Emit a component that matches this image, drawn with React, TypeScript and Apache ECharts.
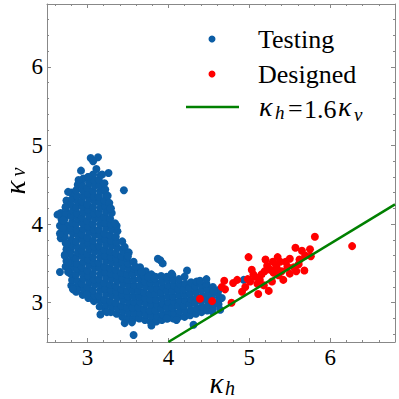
import React, { useEffect, useRef } from "react";
import * as echarts from "echarts";

const AXIS_MIN = 2.5;
const AXIS_MAX = 6.8;
const majorTicks = [3, 4, 5, 6];
const minorTicks = [2.6, 2.8, 3.2, 3.4, 3.6, 3.8, 4.2, 4.4, 4.6, 4.8, 5.2, 5.4, 5.6, 5.8, 6.2, 6.4, 6.6];

const testingCore: number[][] = [
  [2.67,3.82],[2.68,3.90],[2.66,3.98],[2.68,4.06],[2.67,4.14],
  [2.73,3.46],[2.74,3.53],[2.72,3.61],[2.74,3.68],[2.73,3.76],[2.72,3.84],[2.74,3.91],[2.73,3.99],[2.72,4.07],[2.74,4.14],[2.73,4.22],[2.74,4.30],
  [2.80,3.22],[2.81,3.29],[2.79,3.37],[2.81,3.44],[2.80,3.51],[2.82,3.58],[2.79,3.66],[2.81,3.73],[2.80,3.80],[2.82,3.88],[2.79,3.95],[2.81,4.02],[2.80,4.10],[2.82,4.17],[2.79,4.25],[2.81,4.32],[2.80,4.40],
  [2.86,3.14],[2.88,3.21],[2.87,3.28],[2.86,3.36],[2.88,3.43],[2.87,3.50],[2.86,3.57],[2.88,3.64],[2.87,3.71],[2.86,3.78],[2.88,3.86],[2.87,3.93],[2.86,4.00],[2.88,4.07],[2.87,4.14],[2.86,4.21],[2.88,4.28],[2.87,4.36],[2.86,4.43],[2.88,4.50],
  [2.94,3.10],[2.95,3.17],[2.93,3.24],[2.95,3.31],[2.94,3.38],[2.93,3.45],[2.95,3.52],[2.94,3.59],[2.93,3.66],[2.95,3.73],[2.94,3.80],[2.93,3.87],[2.95,3.94],[2.94,4.01],[2.93,4.08],[2.95,4.15],[2.94,4.22],[2.93,4.29],[2.95,4.36],[2.94,4.43],[2.93,4.50],[2.95,4.58],
  [3.01,3.06],[3.02,3.13],[3.00,3.20],[3.02,3.27],[3.01,3.34],[3.00,3.41],[3.02,3.48],[3.01,3.55],[3.00,3.62],[3.02,3.69],[3.01,3.76],[3.00,3.83],[3.02,3.90],[3.01,3.97],[3.00,4.04],[3.02,4.11],[3.01,4.18],[3.00,4.25],[3.02,4.32],[3.01,4.39],[3.00,4.46],[3.02,4.53],[3.01,4.60],
  [3.08,3.02],[3.09,3.09],[3.07,3.16],[3.09,3.23],[3.08,3.30],[3.07,3.37],[3.09,3.44],[3.08,3.51],[3.07,3.58],[3.09,3.65],[3.08,3.72],[3.07,3.79],[3.09,3.86],[3.08,3.93],[3.07,4.00],[3.09,4.07],[3.08,4.14],[3.07,4.21],[3.09,4.28],[3.08,4.35],[3.07,4.42],[3.09,4.49],[3.08,4.56],[3.07,4.63],
  [3.15,2.95],[3.16,3.02],[3.14,3.09],[3.16,3.16],[3.15,3.23],[3.14,3.30],[3.16,3.37],[3.15,3.44],[3.14,3.51],[3.16,3.58],[3.15,3.65],[3.14,3.72],[3.16,3.79],[3.15,3.86],[3.14,3.93],[3.16,4.00],[3.15,4.07],[3.14,4.14],[3.16,4.21],[3.15,4.28],[3.14,4.35],[3.16,4.42],[3.15,4.49],[3.14,4.56],[3.16,4.62],
  [3.22,2.90],[3.23,2.97],[3.21,3.04],[3.23,3.11],[3.22,3.18],[3.21,3.25],[3.23,3.32],[3.22,3.39],[3.21,3.46],[3.23,3.53],[3.22,3.60],[3.21,3.67],[3.23,3.74],[3.22,3.81],[3.21,3.88],[3.23,3.95],[3.22,4.02],[3.21,4.09],[3.23,4.16],[3.22,4.23],[3.21,4.30],[3.23,4.37],[3.22,4.44],[3.21,4.52],
  [3.29,2.88],[3.30,2.95],[3.28,3.02],[3.30,3.09],[3.29,3.16],[3.28,3.23],[3.30,3.30],[3.29,3.37],[3.28,3.44],[3.30,3.51],[3.29,3.58],[3.28,3.65],[3.30,3.72],[3.29,3.79],[3.28,3.86],[3.30,3.93],[3.29,4.00],[3.28,4.07],[3.30,4.14],[3.29,4.20],[3.27,4.27],[3.25,4.36],
  [3.36,2.86],[3.37,2.93],[3.35,3.00],[3.37,3.07],[3.36,3.14],[3.35,3.21],[3.37,3.28],[3.36,3.35],[3.35,3.42],[3.37,3.49],[3.36,3.56],[3.35,3.63],[3.37,3.70],[3.36,3.77],[3.35,3.84],[3.37,3.91],[3.36,3.98],
  [3.43,2.82],[3.44,2.89],[3.42,2.96],[3.44,3.03],[3.43,3.10],[3.42,3.17],[3.44,3.24],[3.43,3.31],[3.42,3.38],[3.44,3.45],[3.43,3.52],[3.42,3.59],[3.44,3.66],[3.43,3.78],
  [3.50,2.80],[3.51,2.87],[3.49,2.94],[3.51,3.01],[3.50,3.08],[3.49,3.15],[3.51,3.22],[3.50,3.29],[3.49,3.36],[3.51,3.43],[3.50,3.50],[3.49,3.57],[3.51,3.64],
  [3.57,2.80],[3.58,2.87],[3.56,2.94],[3.58,3.01],[3.57,3.08],[3.56,3.15],[3.58,3.22],[3.57,3.29],[3.56,3.36],[3.58,3.43],[3.57,3.52],
  [3.64,2.80],[3.65,2.87],[3.63,2.94],[3.65,3.01],[3.64,3.08],[3.63,3.15],[3.65,3.22],[3.64,3.30],[3.63,3.38],[3.65,3.45],
  [3.71,2.78],[3.72,2.85],[3.70,2.92],[3.72,2.99],[3.71,3.06],[3.70,3.13],[3.72,3.20],[3.71,3.27],[3.70,3.34],[3.72,3.40],
  [3.78,2.76],[3.79,2.83],[3.77,2.90],[3.79,2.97],[3.78,3.04],[3.77,3.11],[3.79,3.18],[3.78,3.25],[3.77,3.31],[3.79,3.36],
  [3.85,2.76],[3.86,2.83],[3.84,2.90],[3.86,2.97],[3.85,3.04],[3.84,3.11],[3.86,3.18],[3.85,3.25],[3.84,3.33],
  [3.92,2.78],[3.93,2.85],[3.91,2.92],[3.93,2.99],[3.92,3.06],[3.91,3.13],[3.93,3.20],[3.92,3.27],[3.91,3.34],
  [3.99,2.80],[4.00,2.87],[3.98,2.94],[4.00,3.01],[3.99,3.08],[3.98,3.15],[4.00,3.22],[3.99,3.29],[3.98,3.33],
  [4.06,2.80],[4.07,2.87],[4.05,2.94],[4.07,3.01],[4.06,3.08],[4.05,3.15],[4.07,3.22],[4.06,3.29],[4.05,3.35],
  [4.13,2.82],[4.14,2.89],[4.12,2.96],[4.14,3.03],[4.13,3.10],[4.12,3.17],[4.14,3.24],[4.13,3.30],
  [4.20,2.82],[4.21,2.89],[4.19,2.96],[4.21,3.03],[4.20,3.10],[4.19,3.17],[4.21,3.24],[4.20,3.33],
  [4.27,2.84],[4.28,2.91],[4.26,2.98],[4.28,3.05],[4.27,3.12],[4.26,3.19],[4.28,3.26],
  [4.34,2.86],[4.35,2.93],[4.33,3.00],[4.35,3.07],[4.34,3.14],[4.33,3.21],[4.35,3.27],
  [4.41,2.88],[4.42,2.95],[4.40,3.02],[4.42,3.09],[4.41,3.16],[4.40,3.23],
  [4.48,2.90],[4.49,2.97],[4.47,3.04],[4.49,3.11],[4.48,3.18],[4.47,3.24],
  [4.55,2.93],[4.56,3.00],[4.54,3.07],[4.56,3.14],[4.55,3.20],
  [4.62,2.98],[4.63,3.05],[4.61,3.12],[4.62,3.16],
];

const testingOutliers: number[][] = [
  [3.04,4.84],[3.13,4.85],[3.07,4.80],[2.92,4.68],[3.11,4.70],[3.26,4.65],[3.18,4.63],[3.45,4.43],
  [2.76,4.41],[2.89,4.56],[3.01,4.60],[2.73,4.21],[2.63,4.12],[2.66,3.88],[3.28,4.20],[3.34,4.01],
  [3.46,3.71],[2.78,3.62],[2.76,3.39],[2.66,3.39],[2.87,3.16],[2.99,3.10],[3.16,2.85],[3.24,2.88],
  [3.46,2.74],[3.55,2.75],[3.57,2.59],[3.79,2.71],[3.90,3.54],[3.87,3.56],[3.59,3.46],[3.67,3.39],
  [3.75,3.33],[3.83,3.31],[4.04,3.37],[3.93,3.50],[4.23,3.41],[4.39,3.28],[4.47,3.30],[4.56,3.15],
  [4.66,3.06],[4.64,2.91],[4.54,2.89],[4.31,2.72],[4.10,2.78],[3.98,2.80],[4.93,3.29],[2.72,3.60],
  [2.70,3.95],[2.74,3.75],[2.70,4.05],[3.50,3.59],[2.76,3.52],[2.82,3.17],
];

const designed: number[][] = [
  [5.81,3.84],[6.27,3.72],[5.57,3.70],[5.65,3.66],[5.75,3.68],[5.76,3.59],[5.50,3.56],[4.99,3.58],
  [5.29,3.52],[5.38,3.52],[5.47,3.46],[5.61,3.49],[5.68,3.41],[5.03,3.42],[5.19,3.40],[5.26,3.42],
  [5.34,3.44],[5.50,3.37],[5.42,3.29],[5.07,3.33],[5.13,3.29],[5.01,3.27],[4.80,3.25],[5.24,3.15],
  [4.91,3.14],[5.11,3.11],[4.78,3.00],[4.69,3.28],[4.70,3.17],[4.54,3.02],[4.39,3.05],[4.66,3.20],
  [5.36,3.35],[5.30,3.38],[5.15,3.36],[5.22,3.47],[5.45,3.52],[5.33,3.48],[5.05,3.36],[4.98,3.30],
  [5.10,3.24],[5.18,3.22],[5.28,3.27],[5.40,3.40],[5.55,3.45],[5.62,3.55],[5.69,3.60],[5.58,3.40],
  [4.85,3.29],[4.95,3.20],[5.35,3.58],[5.20,3.55],
];

const fitLine: number[][] = [
  [4.0, 2.5],
  [6.8, 4.25],
];

const BLUE = "#0C5DA5";
const RED = "#FF0000";
const GREEN = "#008000";
const FRAME = "#888888";
const SERIF = "Liberation Serif";

function txt(x: number, y: number, text: string, size: number, italic: boolean, align = "left") {
  return {
    type: "text",
    x,
    y,
    style: {
      text,
      fontFamily: SERIF,
      fontSize: size,
      fontStyle: italic ? "italic" : "normal",
      fill: "#000",
      align,
      verticalAlign: "middle",
    },
  };
}

function makeAxis(position: string, values: number[], len: number, showLine: boolean, labels: boolean) {
  return {
    type: "value",
    min: AXIS_MIN,
    max: AXIS_MAX,
    position,
    axisLine: { show: showLine, onZero: false, lineStyle: { color: FRAME, width: 1 } },
    axisTick: { show: true, inside: true, length: len, customValues: values, lineStyle: { color: FRAME, width: 1 } },
    axisLabel: labels
      ? { show: true, customValues: values, fontFamily: SERIF, fontSize: 23, color: "#000", margin: 4 }
      : { show: false },
    splitLine: { show: false },
  };
}

export default function App() {
  const ref = useRef<HTMLDivElement>(null);
  const yRef = useRef<HTMLDivElement>(null);
  useEffect(() => {
    if (!ref.current || !yRef.current) return;
    const chart = echarts.init(ref.current, null, { renderer: "svg" });
    const yChart = echarts.init(yRef.current, null, { renderer: "svg" });
    const option: any = {
      animation: false,
      textStyle: { fontFamily: SERIF },
      grid: { left: 47, right: 4, top: 4, bottom: 57, outerBoundsMode: "none" },
      xAxis: [
        makeAxis("bottom", majorTicks, 4, true, true),
        makeAxis("bottom", minorTicks, 2, false, false),
        makeAxis("top", majorTicks, 4, true, false),
        makeAxis("top", minorTicks, 2, false, false),
      ],
      yAxis: [
        makeAxis("left", majorTicks, 4, true, true),
        makeAxis("left", minorTicks, 2, false, false),
        makeAxis("right", majorTicks, 4, true, false),
        makeAxis("right", minorTicks, 2, false, false),
      ],
      series: [
        {
          type: "scatter",
          name: "Testing",
          data: testingCore.concat(testingOutliers),
          symbolSize: 8,
          itemStyle: { color: BLUE, opacity: 1 },
          xAxisIndex: 0,
          yAxisIndex: 0,
        },
        {
          type: "scatter",
          name: "Designed",
          data: designed,
          symbolSize: 8,
          itemStyle: { color: RED, opacity: 1 },
          xAxisIndex: 0,
          yAxisIndex: 0,
        },
        {
          type: "line",
          name: "fit",
          data: fitLine,
          showSymbol: false,
          symbol: "none",
          lineStyle: { color: GREEN, width: 2.5 },
          xAxisIndex: 0,
          yAxisIndex: 0,
        },
      ],
      graphic: [
        { type: "circle", shape: { cx: 212, cy: 39, r: 3.5 }, style: { fill: BLUE } },
        txt(258, 39, "Testing", 26, false),
        { type: "circle", shape: { cx: 212, cy: 74, r: 3.5 }, style: { fill: RED } },
        txt(258, 74, "Designed", 26, false),
        { type: "line", shape: { x1: 186, y1: 107, x2: 239, y2: 107 }, style: { stroke: GREEN, lineWidth: 2.5 } },
        txt(259, 106, "κ", 28, true),
        txt(275, 112, "h", 19, true),
        txt(288, 108, "=", 26, false),
        txt(304, 109, "1.6", 26, false),
        txt(338, 106, "κ", 28, true),
        txt(354, 114, "v", 19, true),
        txt(216.5, 383, "κ", 29, true, "center"),
        txt(225, 388, "h", 20, true),
      ],
    };
    chart.setOption(option);
    yChart.setOption({
      animation: false,
      graphic: [
        txt(13.5, 17, "κ", 29, true, "center"),
        txt(29, 20, "v", 20, true, "center"),
      ],
    });
    return () => {
      chart.dispose();
      yChart.dispose();
    };
  }, []);
  return (
    <div style={{ position: "fixed", left: 0, top: 0, width: 399, height: 399, background: "#fff" }}>
      <div ref={ref} style={{ position: "absolute", left: 0, top: 0, width: 399, height: 399 }} />
      <div
        ref={yRef}
        style={{
          position: "absolute",
          left: 18 - 20,
          top: 181 - 20,
          width: 40,
          height: 40,
          transform: "rotate(-90deg)",
          transformOrigin: "50% 50%",
        }}
      />
    </div>
  );
}
